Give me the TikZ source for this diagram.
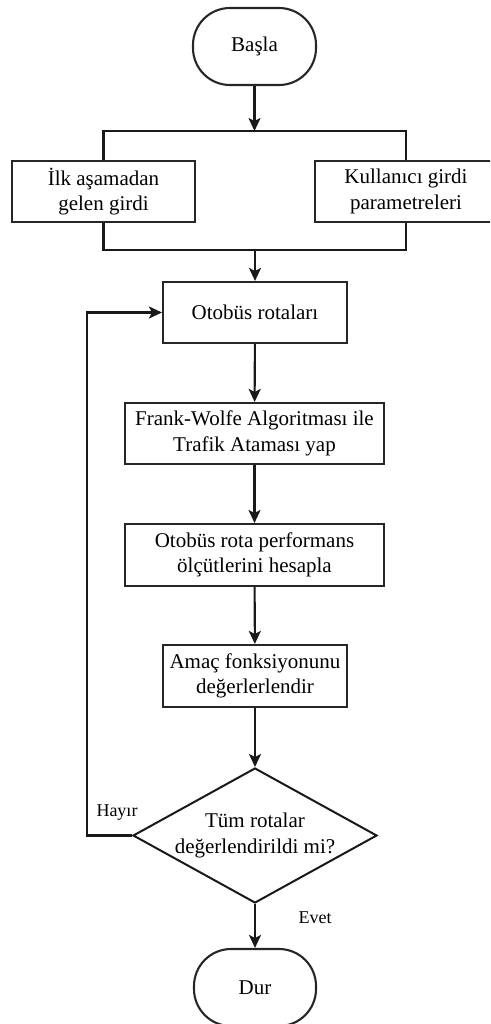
\documentclass[tikz,border=0pt]{standalone}
\usepackage{fontspec}
\setmainfont{Liberation Serif}
\usetikzlibrary{shapes.geometric,arrows.meta}

\tikzset{
  flowline/.style={line width=2.1pt, draw=black!90},
  flowarrow/.style={flowline, -{Stealth[length=13pt, width=12pt, inset=3pt]}},
  procbox/.style={draw=black!85, line width=2.1pt, rectangle, inner sep=0pt,
    align=center, font=\fontsize{21}{25.5}\selectfont},
  terminal/.style={procbox, rounded corners=37pt},
  decision/.style={draw=black!90, line width=2pt, diamond, inner sep=0pt,
    minimum width=244pt, minimum height=135pt},
  branchlabel/.style={font=\fontsize{18}{21}\selectfont, inner sep=0pt},
}

\begin{document}
\begin{tikzpicture}[x=1pt, y=-1pt]
  \useasboundingbox (0,0) rectangle (490,1024);
  \clip (0,0) rectangle (490,1024);

  % terminals
  \node[terminal, minimum width=123pt, minimum height=77pt] (start) at (254.5,46.5) {Başla};
  \node[terminal, minimum width=122pt, minimum height=77pt] (stop) at (255,987.5) {Dur};

  % input boxes
  \node[procbox, minimum width=183pt, minimum height=61pt] (in1) at (103.5,191.5) {İlk aşamadan\\gelen girdi};
  \node[procbox, minimum width=182pt, minimum height=61pt] (in2) at (406,191.5) {Kullanıcı girdi\\parametreleri};

  % main process chain
  \node[procbox, minimum width=184pt, minimum height=61pt] (routes) at (255,312.5) {Otobüs rotaları};
  \node[procbox, minimum width=259pt, minimum height=61pt] (fw) at (254.5,433.5) {Frank-Wolfe Algoritması ile\\Trafik Ataması yap};
  \node[procbox, minimum width=259pt, minimum height=62pt] (perf) at (254.5,555) {Otobüs rota performans\\ölçütlerini hesapla};
  \node[procbox, minimum width=184pt, minimum height=62pt] (obj) at (255,676) {Amaç fonksiyonunu\\değerlerlendir};

  % decision
  \node[decision] (dec) at (255,835.5) {};
  \node[procbox, draw=none] (dectext) at (dec.center) {Tüm rotalar\\değerlendirildi mi?};

  % junction points
  \coordinate (splitL) at (in1.north |- 0,131);
  \coordinate (splitR) at (in2.north |- 0,131);
  \coordinate (split) at (start.south |- 0,131);
  \coordinate (mergeL) at (in1.south |- 0,250);
  \coordinate (mergeR) at (in2.south |- 0,250);
  \coordinate (merge) at (routes.north |- 0,250);
  \coordinate (loopB) at (87,835.5);
  \coordinate (loopT) at (87,312.5);

  % connectors
  \draw[flowarrow] (start) -- (split);
  \draw[flowline] (in1.north) -- (splitL) -- (splitR) -- (in2.north);
  \draw[flowline] (in1.south) -- (mergeL) -- (mergeR) -- (in2.south);
  \draw[flowarrow] (merge) -- (routes);
  \draw[flowarrow] (routes) -- (fw);
  \draw[flowarrow] (fw) -- (perf);
  \draw[flowarrow] (perf) -- (obj);
  \draw[flowarrow] (obj) -- (dec.north);
  \draw[flowarrow] (dec.south) -- (stop);
  \draw[flowarrow] (dec.west) -- (loopB) -- (loopT) -- (routes.west);

  % branch labels
  \node[branchlabel] (no) at (117,813) {Hayır};
  \node[branchlabel] (yes) at (315,918) {Evet};
\end{tikzpicture}
\end{document}
